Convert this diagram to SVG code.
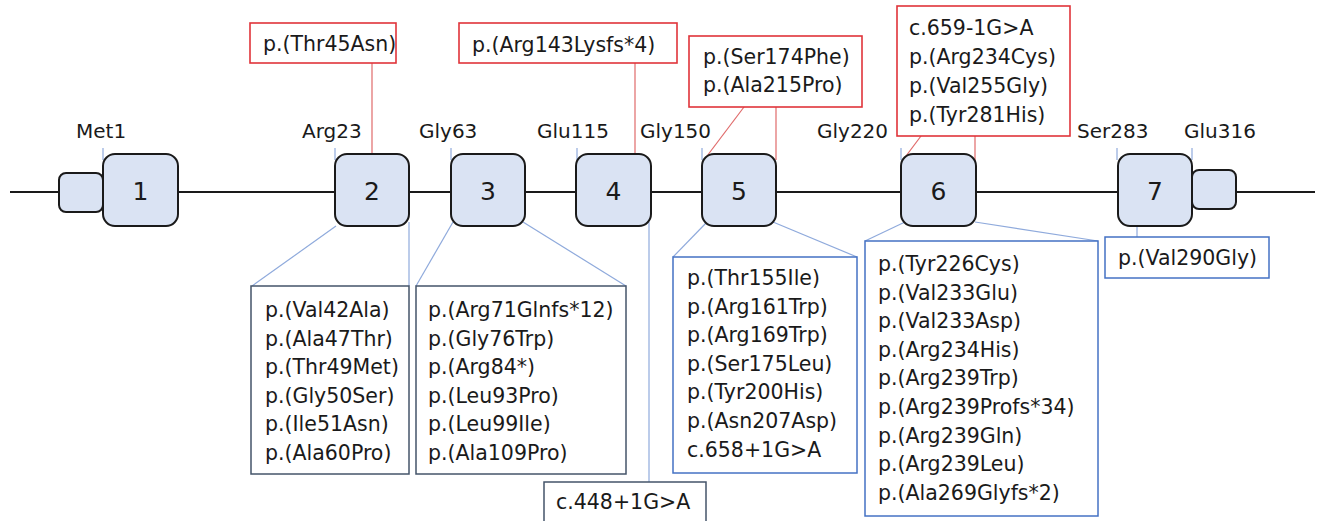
<svg xmlns="http://www.w3.org/2000/svg" width="1319" height="521" viewBox="0 0 1319 521">
<style>
text{font-family:"DejaVu Sans","Liberation Sans",sans-serif;fill:#1a1a1a}
.t{font-size:20.5px}
.pos{font-size:20px}
.num{font-size:25px;text-anchor:middle;dominant-baseline:central}
.exon{fill:#dae3f3;stroke:#1a1a1a;stroke-width:2}
.red{fill:#fff;stroke:#e0343a;stroke-width:1.6}
.dbox{fill:#fff;stroke:#44546a;stroke-width:1.5}
.bbox{fill:#fff;stroke:#4472c4;stroke-width:1.5}
.rl{stroke:#e06a6a;stroke-width:1.2;fill:none}
.bl{stroke:#8faadc;stroke-width:1.2;fill:none}
.tick{stroke:#8faadc;stroke-width:1.2}
</style>
<g id="backbone"><line x1="10" y1="192" x2="1315" y2="192" stroke="#1a1a1a" stroke-width="2.2"/></g>
<g id="connectors">
<line class="tick" x1="103" y1="148" x2="103" y2="160"/>
<line class="tick" x1="335" y1="148" x2="335" y2="160"/>
<line class="tick" x1="451" y1="148" x2="451" y2="160"/>
<line class="tick" x1="577" y1="148" x2="577" y2="160"/>
<line class="tick" x1="702" y1="148" x2="702" y2="160"/>
<line class="tick" x1="901" y1="148" x2="901" y2="160"/>
<line class="tick" x1="1117" y1="148" x2="1117" y2="160"/>
<line class="tick" x1="1192" y1="148" x2="1192" y2="160"/>
<line class="rl" x1="372" y1="63" x2="372" y2="154"/>
<line class="rl" x1="635" y1="63" x2="635" y2="154"/>
<line class="rl" x1="744" y1="107" x2="704" y2="160"/>
<line class="rl" x1="776" y1="107" x2="776" y2="160"/>
<line class="rl" x1="921" y1="136" x2="903" y2="160"/>
<line class="rl" x1="975" y1="136" x2="975" y2="162"/>
<line class="bl" x1="336" y1="226" x2="252" y2="286"/>
<line class="bl" x1="409" y1="222" x2="409" y2="286"/>
<line class="bl" x1="453" y1="222" x2="416" y2="286"/>
<line class="bl" x1="523" y1="222" x2="626" y2="286"/>
<line class="bl" x1="649" y1="222" x2="649" y2="482"/>
<line class="bl" x1="707" y1="222" x2="673" y2="257"/>
<line class="bl" x1="773" y1="222" x2="857" y2="257"/>
<line class="bl" x1="905" y1="222" x2="865" y2="241"/>
<line class="bl" x1="975" y1="222" x2="1098" y2="241"/>
<line class="bl" x1="1137" y1="225" x2="1137" y2="237"/>
</g>
<g id="utr5"><rect class="exon" x="59" y="173" width="44" height="39" rx="7"/></g>
<g id="utr3"><rect class="exon" x="1192" y="170" width="44" height="39" rx="7"/></g>
<g id="exon1"><rect class="exon" x="103" y="154" width="75" height="72" rx="12"/><text class="num" x="140.5" y="191">1</text></g>
<g id="exon2"><rect class="exon" x="335" y="154" width="74" height="72" rx="12"/><text class="num" x="372" y="191">2</text></g>
<g id="exon3"><rect class="exon" x="451" y="154" width="74" height="72" rx="12"/><text class="num" x="488" y="191">3</text></g>
<g id="exon4"><rect class="exon" x="576" y="154" width="75" height="72" rx="12"/><text class="num" x="613.5" y="191">4</text></g>
<g id="exon5"><rect class="exon" x="702" y="154" width="74" height="72" rx="12"/><text class="num" x="739" y="191">5</text></g>
<g id="exon6"><rect class="exon" x="901" y="154" width="75" height="72" rx="12"/><text class="num" x="938.5" y="191">6</text></g>
<g id="exon7"><rect class="exon" x="1118" y="154" width="74" height="72" rx="12"/><text class="num" x="1155" y="191">7</text></g>
<g id="positions">
<text class="pos" x="76" y="138">Met1</text>
<text class="pos" x="302" y="138">Arg23</text>
<text class="pos" x="419" y="138">Gly63</text>
<text class="pos" x="537" y="138">Glu115</text>
<text class="pos" x="640" y="138">Gly150</text>
<text class="pos" x="817" y="138">Gly220</text>
<text class="pos" x="1077" y="138">Ser283</text>
<text class="pos" x="1184" y="138">Glu316</text>
</g>
<g id="red1"><rect class="red" x="250" y="23" width="146" height="40"/><text class="t" x="263" y="51">p.(Thr45Asn)</text></g>
<g id="red4"><rect class="red" x="459" y="23" width="218" height="40"/><text class="t" x="472" y="52">p.(Arg143Lysfs*4)</text></g>
<g id="red5"><rect class="red" x="689" y="36" width="173" height="71"/><text class="t" x="703" y="64">p.(Ser174Phe)</text><text class="t" x="703" y="92">p.(Ala215Pro)</text></g>
<g id="red6"><rect class="red" x="897" y="6" width="173" height="130"/><text class="t" x="909" y="35">c.659-1G&gt;A</text><text class="t" x="909" y="64">p.(Arg234Cys)</text><text class="t" x="909" y="93">p.(Val255Gly)</text><text class="t" x="909" y="122">p.(Tyr281His)</text></g>
<g id="box2"><rect class="dbox" x="251" y="286" width="158" height="188"/>
<text class="t" x="265" y="317">p.(Val42Ala)</text><text class="t" x="265" y="345.6">p.(Ala47Thr)</text><text class="t" x="265" y="374.2">p.(Thr49Met)</text><text class="t" x="265" y="402.8">p.(Gly50Ser)</text><text class="t" x="265" y="431.4">p.(Ile51Asn)</text><text class="t" x="265" y="460">p.(Ala60Pro)</text></g>
<g id="box3"><rect class="dbox" x="416" y="286" width="210" height="188"/>
<text class="t" x="428" y="317">p.(Arg71Glnfs*12)</text><text class="t" x="428" y="345.6">p.(Gly76Trp)</text><text class="t" x="428" y="374.2">p.(Arg84*)</text><text class="t" x="428" y="402.8">p.(Leu93Pro)</text><text class="t" x="428" y="431.4">p.(Leu99Ile)</text><text class="t" x="428" y="460">p.(Ala109Pro)</text></g>
<g id="box4"><rect class="dbox" x="544" y="482" width="162" height="50"/><text class="t" x="556" y="509">c.448+1G&gt;A</text></g>
<g id="box5"><rect class="bbox" x="673" y="257" width="184" height="216"/>
<text class="t" x="687" y="285">p.(Thr155Ile)</text><text class="t" x="687" y="313.6">p.(Arg161Trp)</text><text class="t" x="687" y="342.2">p.(Arg169Trp)</text><text class="t" x="687" y="370.8">p.(Ser175Leu)</text><text class="t" x="687" y="399.4">p.(Tyr200His)</text><text class="t" x="687" y="428">p.(Asn207Asp)</text><text class="t" x="687" y="456.6">c.658+1G&gt;A</text></g>
<g id="box6"><rect class="bbox" x="865" y="241" width="233" height="275"/>
<text class="t" x="878" y="271">p.(Tyr226Cys)</text><text class="t" x="878" y="299.6">p.(Val233Glu)</text><text class="t" x="878" y="328.2">p.(Val233Asp)</text><text class="t" x="878" y="356.8">p.(Arg234His)</text><text class="t" x="878" y="385.4">p.(Arg239Trp)</text><text class="t" x="878" y="414">p.(Arg239Profs*34)</text><text class="t" x="878" y="442.6">p.(Arg239Gln)</text><text class="t" x="878" y="471.2">p.(Arg239Leu)</text><text class="t" x="878" y="499.8">p.(Ala269Glyfs*2)</text></g>
<g id="box7"><rect class="bbox" x="1105" y="237" width="164" height="41"/><text class="t" x="1118" y="265">p.(Val290Gly)</text></g>
</svg>
